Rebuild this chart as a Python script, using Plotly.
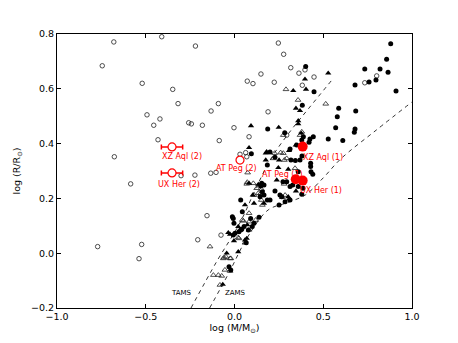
import plotly.graph_objects as go

# log M, log R  -- comparison stars
open_circ_x = [-0.68, -0.745, -0.41, -0.22, -0.52, -0.348, -0.318, -0.091, -0.132, -0.493,
               -0.42, -0.455, -0.258, -0.243, -0.181, -0.431, -0.086, -0.677, 0.247, 0.277,
               0.317, 0.363, 0.397, 0.448, 0.382, 0.072, 0.104, 0.149, 0.224, 0.189,
               -0.003, 0.082, 0.801, 0.734, 0.031, 0.063, 0.069, 0.294, -0.104, -0.134,
               -0.223, -0.301, -0.585, -0.155, -0.207, -0.076, -0.771, -0.523, -0.538]
open_circ_y = [0.771, 0.684, 0.79, 0.756, 0.62, 0.598, 0.546, 0.546, 0.519, 0.505,
               0.49, 0.467, 0.476, 0.472, 0.467, 0.414, 0.411, 0.352, 0.767, 0.726,
               0.677, 0.657, 0.669, 0.643, 0.613, 0.628, 0.619, 0.654, 0.624, 0.516,
               0.458, 0.425, 0.647, 0.622, 0.361, 0.367, 0.352, 0.431, 0.295, 0.292,
               0.285, 0.283, 0.253, 0.137, 0.049, 0.066, 0.024, 0.032, -0.02]

open_tri_x = [0.29, 0.358, 0.514, 0.369, 0.226, 0.26, 0.219, 0.281, 0.379, 0.275,
              0.294, 0.275, 0.341, 0.074, 0.069, 0.106, 0.125, 0.153, 0.134, 0.285,
              0.269, 0.279, 0.151, 0.148, 0.11, 0.157, 0.148, 0.072, 0.082, 0.119,
              0.082, 0.082, 0.044, 0.025, -0.021, 0.05, 0.021, 0.059, -0.048, -0.025,
              -0.063, -0.054, -0.025, -0.119, -0.091, -0.072, -0.082, -0.138, -0.059]
open_tri_y = [0.598, 0.559, 0.545, 0.431, 0.365, 0.367, 0.346, 0.34, 0.443, 0.431,
              0.346, 0.365, 0.31, 0.294, 0.253, 0.255, 0.237, 0.233, 0.219, 0.212,
              0.204, 0.253, 0.194, 0.219, 0.212, 0.176, 0.249, 0.259, 0.146, 0.121,
              0.115, 0.085, 0.121, 0.054, -0.019, 0.118, 0.057, 0.038, -0.013, -0.019,
              -0.019, -0.061, -0.065, -0.08, -0.08, -0.083, -0.116, 0.024, -0.016]

fill_tri_x = [0.397, 0.528, 0.331, 0.403, 0.346, 0.369, 0.359, 0.359, 0.093, 0.249,
              0.376, 0.345, 0.307, 0.082, 0.176, 0.176, 0.251, 0.247, 0.303, 0.238,
              0.307, 0.166, 0.11, 0.082, 0.134, 0.103, 0.303, 0.346, 0.072, 0.059,
              0.021, 0.059, 0.021, -0.025, -0.003, 0.069, -0.044, -0.066, -0.035, 0.181]
fill_tri_y = [0.635, 0.657, 0.593, 0.598, 0.529, 0.52, 0.472, 0.483, 0.465, 0.459,
              0.438, 0.394, 0.374, 0.385, 0.365, 0.34, 0.34, 0.312, 0.306, 0.267,
              0.197, 0.182, 0.182, 0.255, 0.251, 0.212, 0.206, 0.227, 0.103, 0.048,
              0.005, 0.176, 0.097, 0.069, 0.045, 0.054, 0.0, -0.114, 0.075, 0.37]

fill_circ_x = [0.401, 0.448, 0.382, 0.88, 0.857, 0.82, 0.865, 0.734, 0.797, 0.758,
               0.679, 0.91, 0.587, 0.683, 0.579, 0.57, 0.679, 0.675, 0.528, 0.61,
               0.444, 0.425, 0.388, 0.379, 0.313, 0.35, 0.369, 0.318, 0.429, 0.429,
               0.359, 0.431, 0.441, 0.294, 0.328, 0.379, 0.386, 0.285, 0.266, 0.251,
               0.187, 0.283, 0.42, 0.095, 0.2, 0.38, 0.228, 0.185, 0.343, 0.153,
               0.148, 0.228, 0.313, 0.359, 0.144, 0.166, 0.256, 0.313, 0.166, 0.273,
               0.185, 0.2, 0.157, 0.035, 0.044, 0.091, 0.138, 0.11, 0.1, 0.054,
               0.035, 0.025, -0.012, -0.003, 0.003, 0.066, -0.031, -0.021, -0.007, 0.041,
               0.078, -0.007]
fill_circ_y = [0.681, 0.589, 0.54, 0.764, 0.708, 0.672, 0.66, 0.672, 0.632, 0.625,
               0.614, 0.592, 0.529, 0.519, 0.498, 0.458, 0.453, 0.441, 0.417, 0.411,
               0.425, 0.417, 0.425, 0.413, 0.38, 0.395, 0.34, 0.34, 0.328, 0.316,
               0.297, 0.297, 0.288, 0.261, 0.249, 0.215, 0.237, 0.188, 0.206, 0.176,
               0.453, 0.44, 0.405, 0.363, 0.369, 0.355, 0.35, 0.322, 0.338, 0.255,
               0.245, 0.227, 0.243, 0.243, 0.206, 0.212, 0.212, 0.194, 0.249, 0.261,
               0.194, 0.194, 0.224, 0.194, 0.151, 0.127, 0.131, 0.109, 0.097, 0.097,
               0.085, 0.078, 0.133, 0.109, 0.073, 0.038, -0.049, -0.061, 0.127, 0.087,
               0.085, 0.066]

# ZAMS / TAMS
tams_x = [-0.245, -0.1, 0.03, 0.13, 0.21, 0.32, 0.42, 0.55]
tams_y = [-0.2, -0.03, 0.11, 0.25, 0.35, 0.45, 0.53, 0.633]
zams_x = [-0.14, -0.03, 0.07, 0.19, 0.3, 0.4, 0.5, 0.6, 0.8, 1.0]
zams_y = [-0.2, -0.07, 0.055, 0.158, 0.185, 0.213, 0.275, 0.345, 0.45, 0.552]

# the three binaries, solution (1) and (2)
sol1_names = ["XZ Aql (1)", "AT Peg (1)", "UX Her (1)"]
sol1_x = [0.384, 0.345, 0.384]
sol1_y = [0.389, 0.27, 0.265]
sol2_names = ["XZ Aql (2)", "AT Peg (2)", "UX Her (2)"]
sol2_x = [-0.352, 0.031, -0.352]
sol2_y = [0.388, 0.34, 0.293]
sol2_xerr = [0.06, 0.0, 0.06]

FONT = "DejaVu Sans"

fig = go.Figure()

fig.add_trace(go.Scatter(x=tams_x, y=tams_y, mode="lines", line_shape="spline",
                         line=dict(color="black", width=0.8, dash="4px,4px")))
fig.add_trace(go.Scatter(x=zams_x, y=zams_y, mode="lines", line_shape="spline",
                         line=dict(color="black", width=0.8, dash="4px,4px")))

fig.add_trace(go.Scatter(x=open_circ_x, y=open_circ_y, mode="markers",
                         marker=dict(symbol="circle-open", size=4.5, color="#222",
                                     line=dict(width=0.8))))
fig.add_trace(go.Scatter(x=open_tri_x, y=open_tri_y, mode="markers",
                         marker=dict(symbol="triangle-up-open", size=5, color="#222",
                                     line=dict(width=0.8))))
fig.add_trace(go.Scatter(x=fill_tri_x, y=fill_tri_y, mode="markers",
                         marker=dict(symbol="triangle-up", size=5.5, color="black")))
fig.add_trace(go.Scatter(x=fill_circ_x, y=fill_circ_y, mode="markers",
                         marker=dict(symbol="circle", size=5, color="black")))

fig.add_trace(go.Scatter(x=sol2_x, y=sol2_y, mode="markers",
                         error_x=dict(type="data", array=sol2_xerr, color="red",
                                      thickness=1.5, width=2.5),
                         marker=dict(symbol="circle", size=8, color="white",
                                     line=dict(color="red", width=1.2))))
fig.add_trace(go.Scatter(x=sol1_x, y=sol1_y, mode="markers",
                         marker=dict(symbol="circle", size=10, color="red")))

# label offsets in pixels (dx, dy)
offsets = {
    "XZ Aql (1)": (20, -11), "AT Peg (1)": (-13, 5), "UX Her (1)": (18, -10),
    "XZ Aql (2)": (10, -10), "AT Peg (2)": (-4, -8), "UX Her (2)": (7, -12),
}
for names, xs, ys in [(sol1_names, sol1_x, sol1_y), (sol2_names, sol2_x, sol2_y)]:
    for n, x, y in zip(names, xs, ys):
        dx, dy = offsets[n]
        fig.add_annotation(x=x, y=y, text=n, showarrow=False, xshift=dx, yshift=dy,
                           font=dict(family=FONT, size=8, color="red"))

fig.add_annotation(x=-0.296, y=-0.145, text="TAMS", showarrow=False,
                   font=dict(family=FONT, size=7, color="black"))
fig.add_annotation(x=0.008, y=-0.145, text="ZAMS", showarrow=False,
                   font=dict(family=FONT, size=7, color="black"))

xticks = [-1.0, -0.5, 0.0, 0.5, 1.0]
xlabels = ["\u22121.0", "\u22120.5", "0.0", "0.5", "1.0"]
yticks = [-0.2, 0.0, 0.2, 0.4, 0.6, 0.8]
ylabels = ["\u22120.2", "0.0", "0.2", "0.4", "0.6", "0.8"]

axis_style = dict(showgrid=False, zeroline=False, showline=True, linecolor="black",
                  linewidth=1, mirror="allticks", ticks="inside", ticklen=4,
                  tickcolor="black", tickwidth=1, automargin=False,
                  tickfont=dict(family=FONT, size=9.5, color="black"))

# the page body keeps its default 8px margin, so the figure is 16px smaller
fig.update_layout(
    width=442, height=327,
    paper_bgcolor="white", plot_bgcolor="white",
    showlegend=False,
    margin=dict(l=49, r=38, t=26, b=27),
    font=dict(family=FONT, color="black"),
    xaxis=dict(range=[-1, 1], tickvals=xticks, ticktext=xlabels,
               title=dict(text="log (M/M<sub>\u2299</sub>)", standoff=4,
                          font=dict(family=FONT, size=9.5)), **axis_style),
    yaxis=dict(range=[-0.2, 0.8], tickvals=yticks, ticktext=ylabels,
               title=dict(text="log (R/R<sub>\u2299</sub>)", standoff=8,
                          font=dict(family=FONT, size=9.5)), **axis_style),
)

fig.write_html("out.html")
